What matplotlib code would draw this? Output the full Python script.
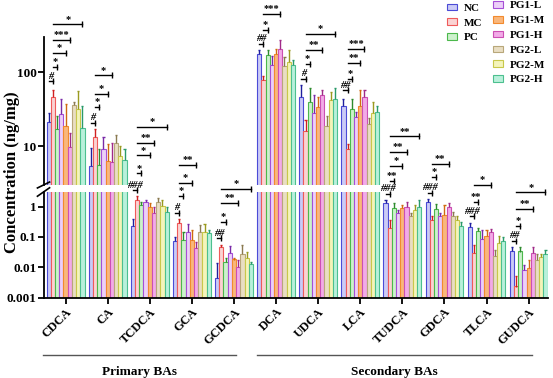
import numpy as np
import matplotlib
matplotlib.use('Agg')
import matplotlib.pyplot as plt
from matplotlib.patches import Patch

plt.rcParams['font.family'] = ['Liberation Serif', 'DejaVu Serif']
plt.rcParams['font.weight'] = 'bold'

categories = ['CDCA', 'CA', 'TCDCA', 'GCA', 'GCDCA', 'DCA', 'UDCA', 'LCA',
              'TUDCA', 'GDCA', 'TLCA', 'GUDCA']
groups = ['NC', 'MC', 'PC', 'PG1-L', 'PG1-M', 'PG1-H', 'PG2-L', 'PG2-M', 'PG2-H']

# mean values (ng/mg), one list per group, in category order
nc    = [21, 5.4, 0.22, 0.075, 0.0045, 179, 46, 35, 1.3, 1.36, 0.21, 0.035]
mc    = [46, 13.5, 1.66, 0.28, 0.045, 78, 16, 9.3, 0.19, 0.35, 0.029, 0.0023]
pc    = [17, 5.6, 1.14, 0.08, 0.015, 170, 40, 32, 0.88, 0.82, 0.16, 0.033]
pg1_l = [27, 9.2, 1.36, 0.14, 0.03, 124, 28, 25, 0.6, 0.47, 0.084, 0.0082]
pg1_m = [19, 6.4, 0.95, 0.08, 0.018, 179, 34, 35, 0.88, 0.53, 0.11, 0.0093]
pg1_h = [9.8, 6.2, 0.63, 0.042, 0.01, 209, 49, 46, 1.0, 0.95, 0.14, 0.03]
pg2_l = [36, 11, 1.46, 0.15, 0.028, 120, 19, 20, 0.49, 0.47, 0.024, 0.017]
pg2_m = [32, 7.3, 1.05, 0.15, 0.02, 138, 42, 28, 0.74, 0.35, 0.062, 0.022]
pg2_h = [17.6, 6.5, 0.68, 0.13, 0.013, 124, 44, 29, 0.95, 0.23, 0.075, 0.027]

# upper error (SD)
nc_sd    = [7.5, 4.1, 0.16, 0.025, 0.009, 19, 21, 9, 0.28, 0.39, 0.07, 0.013]
mc_sd    = [12, 3.5, 0.6, 0.1, 0.009, 10, 7, 1.3, 0.17, 0.12, 0.025, 0.003]
pc_sd    = [9, 3.7, 0.32, 0.07, 0.006, 28, 22, 12, 0.42, 0.41, 0.03, 0.012]
pg1_l_sd = [16, 4.1, 0.22, 0.13, 0.022, 40, 22, 4, 0.18, 0.16, 0.086, 0.004]
pg1_m_sd = [18, 4.3, 0.35, 0.09, 0.003, 30, 12, 22, 0.26, 0.6, 0.06, 0.008]
pg1_h_sd = [5.3, 4.8, 0.37, 0.028, 0.007, 67, 8, 11, 0.46, 0.35, 0.04, 0.018]
pg2_l_sd = [4, 3.3, 0.44, 0.1, 0.027, 41, 7, 4.2, 0.14, 0.21, 0.013, 0.01]
pg2_m_sd = [24, 2.7, 0.61, 0.12, 0.012, 60, 12, 12, 0.4, 0.12, 0.048, 0.005]
pg2_h_sd = [17, 2.8, 0.27, 0.04, 0.002, 24, 18, 5.7, 0.63, 0.09, 0.025, 0.01]

means = [nc, mc, pc, pg1_l, pg1_m, pg1_h, pg2_l, pg2_m, pg2_h]
sds = [nc_sd, mc_sd, pc_sd, pg1_l_sd, pg1_m_sd, pg1_h_sd, pg2_l_sd, pg2_m_sd, pg2_h_sd]

fills = ['#cbcbf6', '#fad3d3', '#cdf1cd', '#ecd0f8', '#f9b77c', '#f2abe7',
         '#e9dec3', '#f4f4bb', '#b9f0db']
edges = ['#4b4bd6', '#ef5a5a', '#4cb84c', '#a64fd6', '#f28a2e', '#cc4fb3',
         '#b8a77a', '#c8c84a', '#4cc08f']
errc = ['#1f1f9e', '#d02020', '#2e8b2e', '#7a2aa8', '#d06a10', '#a02a88',
        '#8a7a50', '#9a9a20', '#2a9a6a']

# significance marks: (panel, category, from group, to group, y, label)
sig_panel = ['u', 'u', 'u', 'u', 'u',
             'u', 'u', 'u', 'u',
             'l', 'u', 'u', 'u', 'u',
             'l', 'l', 'u', 'u',
             'l', 'l', 'l', 'l',
             'u', 'u', 'u',
             'u', 'u', 'u', 'u',
             'u', 'u', 'u', 'u',
             'l', 'u', 'u', 'u', 'u',
             'l', 'u', 'u',
             'l', 'l', 'l',
             'l', 'l', 'l', 'l']
sig_cat = [0, 0, 0, 0, 0,
           1, 1, 1, 1,
           2, 2, 2, 2, 2,
           3, 3, 3, 3,
           4, 4, 4, 4,
           5, 5, 5,
           6, 6, 6, 6,
           7, 7, 7, 7,
           8, 8, 8, 8, 8,
           9, 9, 9,
           10, 10, 10,
           11, 11, 11, 11]
sig_from = [0, 1, 1, 1, 1,
            0, 1, 1, 1,
            0, 1, 1, 1, 1,
            0, 1, 1, 1,
            0, 1, 1, 1,
            0, 1, 1,
            0, 1, 1, 1,
            0, 1, 1, 1,
            0, 1, 1, 1, 1,
            0, 1, 1,
            0, 1, 1,
            0, 1, 1, 1]
sig_to = [1, 2, 4, 5, 8,
          1, 2, 4, 5,
          1, 2, 4, 5, 8,
          1, 2, 4, 5,
          1, 2, 5, 8,
          1, 2, 5,
          1, 2, 5, 8,
          1, 2, 4, 5,
          1, 2, 4, 5, 8,
          1, 2, 5,
          1, 2, 5,
          1, 2, 5, 8]
sig_y = [75.6, 118, 185, 277, 445,
         20.9, 34, 51.5, 91,
         3.4, 4.3, 7.55, 11.1, 18.2,
         0.63, 2.25, 3.19, 5.66,
         0.09, 0.32, 1.3, 3.75,
         244, 378, 620,
         82, 131, 203, 333,
         57, 82, 135, 209,
         2.57, 3.4, 5.4, 8.4, 13.6,
         2.77, 3.85, 5.85,
         0.47, 1.46, 5.2,
         0.075, 0.23, 0.82, 2.9]
sig_text = ['#', '*', '*', '***', '*',
            '#', '*', '*', '*',
            '###', '*', '*', '**', '*',
            '#', '*', '*', '**',
            '##', '*', '**', '*',
            '##', '*', '***',
            '#', '*', '**', '*',
            '##', '*', '**', '***',
            '###', '**', '*', '**', '**',
            '###', '*', '**',
            '###', '**', '*',
            '##', '*', '**', '*']

W, H = 553, 378
fig = plt.figure(figsize=(W / 100, H / 100), dpi=100)
left, right = 43.5, 548
ax_up = fig.add_axes([left / W, 1 - 185 / H, (right - left) / W, (185 - 37) / H])
ax_lo = fig.add_axes([left / W, 1 - 297.7 / H, (right - left) / W, (297.7 - 192) / H])

x = np.arange(len(categories))
bw = 0.1
n = len(groups)
for ax in (ax_up, ax_lo):
    ax.set_yscale('log')
    for i in range(n):
        pos = x + (i - (n - 1) / 2) * bw
        ax.bar(pos, means[i], width=bw, bottom=0.0001, color=fills[i],
               edgecolor=edges[i], linewidth=0.8, label=groups[i], zorder=2)
        top = np.array(means[i]) + np.array(sds[i])
        ax.vlines(pos, means[i], top, color=errc[i], linewidth=1.0, zorder=3)
        ax.hlines(top, pos - 0.025, pos + 0.025, color=errc[i], linewidth=1.0, zorder=3)
    ax.set_xlim(-0.525, 11.46)
    ax.spines['right'].set_visible(False)
    ax.spines['top'].set_visible(False)
    ax.spines['left'].set_linewidth(1.3)
    ax.spines['bottom'].set_linewidth(1.3)
    ax.tick_params(axis='y', which='major', length=4, width=1.3, labelsize=9.5, pad=1)
    ax.tick_params(axis='y', which='minor', length=0)

ax_up.set_ylim(3, 300)
ax_up.set_yticks([10, 100])
ax_up.set_yticklabels(['10', '100'])
ax_up.spines['bottom'].set_visible(False)
ax_up.set_xticks([])

ax_lo.set_ylim(0.001, 3)
ax_lo.set_yticks([0.001, 0.01, 0.1, 1])
ax_lo.set_yticklabels(['0.001', '0.01', '0.1', '1'])
ax_lo.set_xticks(x)
ax_lo.set_xticklabels(categories, rotation=45, ha='right', rotation_mode='anchor')
ax_lo.tick_params(axis='x', length=4, width=1.3, labelsize=9, pad=2)

# break marks on the left spine
d = 0.012
ax_up.plot([-d, d], [-0.02, 0.02], transform=ax_up.transAxes, color='black',
           linewidth=1.2, clip_on=False)
ax_lo.plot([-d, d], [0.96, 1.04], transform=ax_lo.transAxes, color='black',
           linewidth=1.2, clip_on=False)

# significance brackets
for k in range(len(sig_text)):
    ax = ax_up if sig_panel[k] == 'u' else ax_lo
    c = sig_cat[k]
    x1 = c + (sig_from[k] - (n - 1) / 2) * bw
    x2 = c + (sig_to[k] - (n - 1) / 2) * bw
    y = sig_y[k]
    ax.plot([x1, x2], [y, y], color='black', linewidth=1.0, clip_on=False, zorder=5)
    ax.plot([x2], [y], marker='|', markersize=4, markeredgewidth=1.0,
            color='black', clip_on=False, zorder=5)
    style = 'italic' if sig_text[k].startswith('#') else 'normal'
    ax.annotate(sig_text[k], xy=((x1 + x2) / 2, y), xytext=(0, 0.5),
                textcoords='offset points', ha='center', va='bottom',
                fontsize=7.5, fontweight='bold', fontstyle=style,
                annotation_clip=False)

# group lines under the x labels
tr = ax_lo.get_xaxis_transform()
ax_lo.plot([-0.53, 4.05], [-0.54, -0.54], transform=tr, color='#555555',
           linewidth=1.0, clip_on=False)
ax_lo.plot([4.55, 11.08], [-0.54, -0.54], transform=tr, color='#555555',
           linewidth=1.0, clip_on=False)
ax_lo.text(1.76, -0.70, 'Primary BAs', transform=tr, ha='center', va='center',
           fontsize=9.5, fontweight='bold')
ax_lo.text(7.8, -0.70, 'Secondary BAs', transform=tr, ha='center', va='center',
           fontsize=9.5, fontweight='bold')

fig.text(12 / W, 1 - 172 / H, 'Concentration (ng/mg)', rotation=90,
         ha='center', va='center', fontsize=12, fontweight='bold')

# legend in two columns: 3 + 6
handles = [Patch(facecolor=fills[i], edgecolor=edges[i], linewidth=0.8) for i in range(n)]
leg1 = fig.legend(handles[:3], groups[:3], loc='upper left',
                  bbox_to_anchor=(447 / W, 1 - 3.5 / H), frameon=False,
                  fontsize=8, handlelength=0.9, handleheight=0.55,
                  handletextpad=0.6, labelspacing=0.5, borderpad=0, borderaxespad=0)
leg2 = fig.legend(handles[3:], groups[3:], loc='upper left',
                  bbox_to_anchor=(493 / W, 1 - 1 / H), frameon=False,
                  fontsize=8, handlelength=0.9, handleheight=0.55,
                  handletextpad=0.6, labelspacing=0.5, borderpad=0, borderaxespad=0)

fig.savefig('out.png', dpi=100)
